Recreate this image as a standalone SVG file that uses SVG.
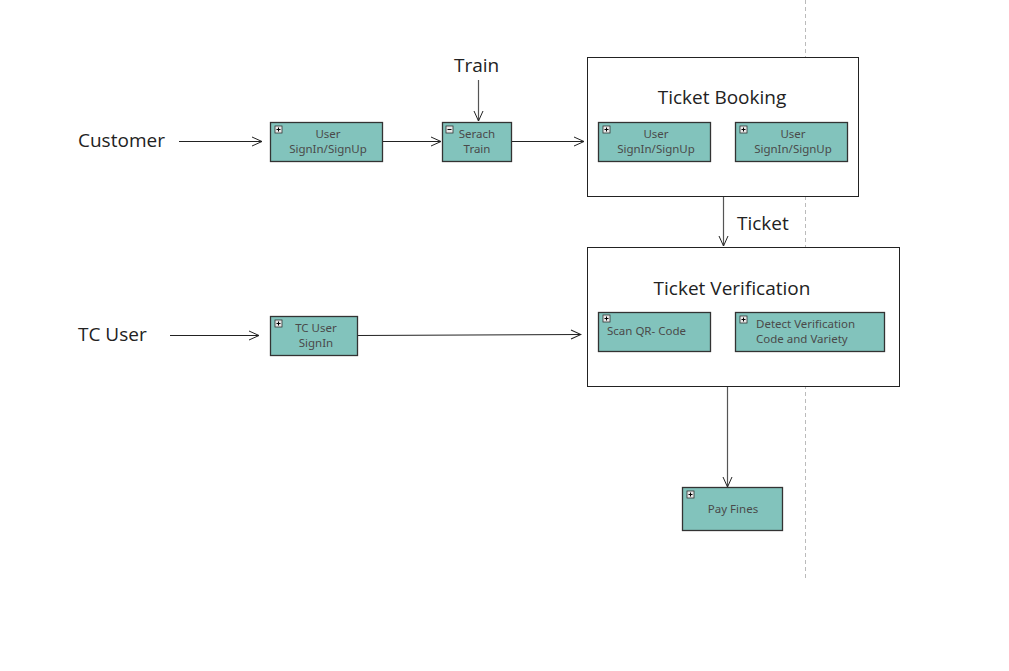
<svg xmlns="http://www.w3.org/2000/svg" width="1009" height="671" viewBox="0 0 1009 671">
<defs>
<marker id="arr" viewBox="0 0 12 12" refX="11" refY="6" markerWidth="12" markerHeight="12" markerUnits="userSpaceOnUse" orient="auto">
<polyline points="1,1.5 11,6 1,10.5" fill="none" stroke="#222" stroke-width="1"/>
</marker>
<g id="plus">
<rect x="0" y="0" width="7" height="7" fill="#e8e8e8" stroke="#333" stroke-width="0.8"/>
<line x1="1.5" y1="3.5" x2="5.5" y2="3.5" stroke="#000" stroke-width="1"/>
<line x1="3.5" y1="1.5" x2="3.5" y2="5.5" stroke="#000" stroke-width="1"/>
</g>
<g id="minus">
<rect x="0" y="0" width="7" height="7" fill="#e8e8e8" stroke="#333" stroke-width="0.8"/>
<line x1="1.5" y1="3.5" x2="5.5" y2="3.5" stroke="#000" stroke-width="1"/>
</g>
</defs>
<style>
.box{fill:#82c3bc;stroke:#333;stroke-width:1.3}
.frame{fill:#fff;stroke:#222;stroke-width:1}
.lbl{font-family:"Noto Sans","Open Sans",sans-serif;font-size:11.5px;fill:#4a4a4a;text-anchor:middle}
.lbl2{font-family:"Noto Sans","Open Sans",sans-serif;font-size:11.5px;fill:#4a4a4a}
.big{font-family:"Open Sans","Noto Sans",sans-serif;font-size:19px;fill:#222}
.title{font-family:"Open Sans","Noto Sans",sans-serif;font-size:19px;fill:#222;text-anchor:middle}
.conn{fill:none;stroke:#222;stroke-width:1;marker-end:url(#arr)}
.conn2{fill:none;stroke:#555;stroke-width:1.2;marker-end:url(#arr)}
</style>
<rect width="1009" height="671" fill="#fff"/>
<line x1="805.5" y1="0" x2="805.5" y2="578" stroke="#bbb" stroke-width="1" stroke-dasharray="4,3"/>

<g id="ticket-booking">
<rect class="frame" x="587.5" y="57.5" width="271" height="139"/>
<text class="title" x="722" y="104">Ticket Booking</text>
</g>
<g id="ticket-verification">
<rect class="frame" x="587.5" y="247.5" width="312" height="139"/>
<text class="title" x="732" y="295">Ticket Verification</text>
</g>

<g id="customer"><text class="big" x="78" y="147">Customer</text></g>
<g id="tc-user"><text class="big" x="78" y="341">TC User</text></g>
<g id="train"><text class="big" x="454" y="72">Train</text></g>
<g id="ticket-label"><text class="big" x="737" y="230">Ticket</text></g>

<g id="user-signin-1">
<rect class="box" x="270.5" y="122.5" width="112" height="39"/>
<use href="#plus" x="275" y="126"/>
<text class="lbl" x="328" y="138">User</text>
<text class="lbl" x="328" y="153">SignIn/SignUp</text>
</g>
<g id="search-train">
<rect class="box" x="442.5" y="122.5" width="69" height="39"/>
<use href="#minus" x="446" y="126"/>
<text class="lbl" x="477" y="138">Serach</text>
<text class="lbl" x="477" y="153">Train</text>
</g>
<g id="booking-signin-1">
<rect class="box" x="598.5" y="122.5" width="112" height="39"/>
<use href="#plus" x="603" y="126"/>
<text class="lbl" x="656" y="138">User</text>
<text class="lbl" x="656" y="153">SignIn/SignUp</text>
</g>
<g id="booking-signin-2">
<rect class="box" x="735.5" y="122.5" width="112" height="39"/>
<use href="#plus" x="740" y="126"/>
<text class="lbl" x="793" y="138">User</text>
<text class="lbl" x="793" y="153">SignIn/SignUp</text>
</g>
<g id="tc-user-signin">
<rect class="box" x="270.5" y="316.5" width="87" height="39"/>
<use href="#plus" x="275" y="320"/>
<text class="lbl" x="316" y="332">TC User</text>
<text class="lbl" x="316" y="347">SignIn</text>
</g>
<g id="scan-qr">
<rect class="box" x="598.5" y="312.5" width="112" height="39"/>
<use href="#plus" x="603" y="315"/>
<text class="lbl2" x="607" y="335">Scan QR- Code</text>
</g>
<g id="detect-verification">
<rect class="box" x="735.5" y="312.5" width="149" height="39"/>
<use href="#plus" x="740" y="316"/>
<text class="lbl2" x="756" y="328">Detect Verification</text>
<text class="lbl2" x="756" y="343">Code and Variety</text>
</g>
<g id="pay-fines">
<rect class="box" x="682.5" y="487.5" width="100" height="43"/>
<use href="#plus" x="687" y="491"/>
<text class="lbl" x="733" y="513">Pay Fines</text>
</g>

<g id="connectors">
<line class="conn" x1="179" y1="141.5" x2="262" y2="141.5"/>
<line class="conn" x1="383" y1="141.5" x2="441" y2="141.5"/>
<line class="conn" x1="512" y1="141.5" x2="584" y2="141.5"/>
<line class="conn2" x1="478.5" y1="80" x2="478.5" y2="121"/>
<line class="conn2" x1="723.5" y1="197" x2="723.5" y2="246"/>
<line class="conn" x1="170" y1="335.5" x2="259" y2="335.5"/>
<line class="conn" x1="358" y1="335.5" x2="581" y2="334.5"/>
<line class="conn2" x1="727.5" y1="387" x2="727.5" y2="487"/>
</g>
</svg>
